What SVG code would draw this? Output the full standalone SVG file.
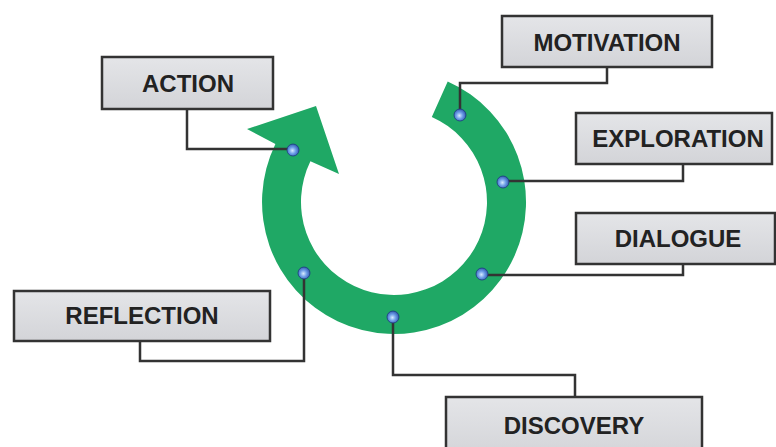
<svg xmlns="http://www.w3.org/2000/svg" width="776" height="447" viewBox="0 0 776 447">
<defs>
<radialGradient id="dotg" cx="0.45" cy="0.55" r="0.6">
<stop offset="0" stop-color="#d8ecff"/>
<stop offset="0.45" stop-color="#6f9fe8"/>
<stop offset="1" stop-color="#2a4fa8"/>
</radialGradient>
<linearGradient id="boxg" x1="0" y1="0" x2="0" y2="1">
<stop offset="0" stop-color="#e4e5e8"/>
<stop offset="1" stop-color="#d3d4d8"/>
</linearGradient>
<style>
.box{fill:url(#boxg);stroke:#333;stroke-width:2.5}
.lbl{font-family:"Liberation Sans",Arial,sans-serif;font-weight:bold;font-size:24px;fill:#222;text-anchor:middle}
.con{fill:none;stroke:#333;stroke-width:2.5}
.dot{fill:url(#dotg);stroke:#1d3a80;stroke-width:0.8}
.ring{fill:#1fa865}
</style>
</defs>
<rect width="776" height="447" fill="#ffffff"/>
<g id="cycle-arrow">
<path class="ring" d="M447.7 81.4 A132 132 0 1 1 275.4 144.1 L247 129 L316 106 L339 174 L310.4 161.2 A93 93 0 1 0 431.8 117 Z"/>
</g>
<g id="connectors">
<path class="con" d="M187 109 V149 H293"/>
<path class="con" d="M607 67 V83 H460 V115"/>
<path class="con" d="M683 164 V181 H503"/>
<path class="con" d="M683 264 V275 H482"/>
<path class="con" d="M140 341 V361 H304 V273"/>
<path class="con" d="M393 317 V375 H575 V397"/>
</g>
<g id="dots">
<circle class="dot" cx="293" cy="150" r="6"/>
<circle class="dot" cx="460" cy="115" r="6"/>
<circle class="dot" cx="503" cy="182" r="6"/>
<circle class="dot" cx="482" cy="274" r="6"/>
<circle class="dot" cx="393" cy="317" r="6"/>
<circle class="dot" cx="304" cy="273" r="6"/>
</g>
<g id="action"><rect class="box" x="102" y="57" width="171" height="52"/><text class="lbl" x="188" y="92">ACTION</text></g>
<g id="motivation"><rect class="box" x="502" y="16" width="210" height="51"/><text class="lbl" x="607" y="51">MOTIVATION</text></g>
<g id="exploration"><rect class="box" x="576" y="113" width="196" height="51"/><text class="lbl" x="678" y="147">EXPLORATION</text></g>
<g id="dialogue"><rect class="box" x="576" y="213" width="199" height="51"/><text class="lbl" x="678" y="247">DIALOGUE</text></g>
<g id="reflection"><rect class="box" x="14" y="291" width="256" height="50"/><text class="lbl" x="142" y="324">REFLECTION</text></g>
<g id="discovery"><rect class="box" x="446" y="397" width="256" height="60"/><text class="lbl" x="574" y="434">DISCOVERY</text></g>
</svg>
